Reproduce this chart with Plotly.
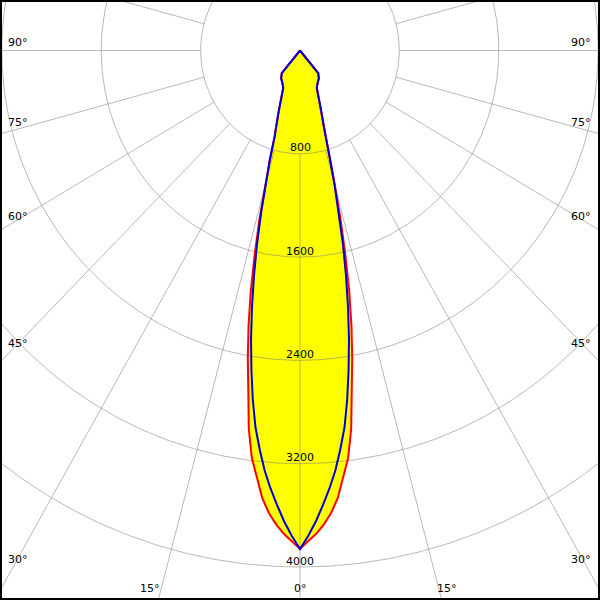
import numpy as np
import plotly.graph_objects as go

# ---- data (cd, angle in degrees from nadir) ----
ANGLES = [0, 1, 2, 3, 4, 5, 6, 7, 8, 9, 10, 11, 12, 13, 14, 15, 16, 17, 18,
          20, 22.5, 25, 30, 35, 40, 45, 50, 60, 70, 80, 90]
RED_C0 = [3860, 3800, 3745, 3675, 3590, 3480, 3320, 3180, 2960, 2660, 2420,
          2170, 1905, 1620, 1350, 1090, 880, 700, 620, 500, 400, 320, 285,
          265, 228, 0, 0, 0, 0, 0, 0]
BLUE_C90 = [3860, 3760, 3650, 3525, 3400, 3265, 3105, 2940, 2730, 2500, 2270,
            2025, 1780, 1535, 1290, 1070, 880, 700, 620, 500, 400, 320, 285,
            265, 228, 0, 0, 0, 0, 0, 0]
RADIAL_TICKS = [800, 1600, 2400, 3200, 4000]
SIDE_ANGLE_TICKS = ["90°", "75°", "60°", "45°", "30°"]
BOTTOM_ANGLE_TICKS = ["15°", "0°", "15°"]

# ---- layout constants (pixels of the 600x600 picture) ----
W = H = 600
CX, CY = 300.0, 50.5          # pole position in pixels
SX = 99.4 / 800               # px per cd horizontally
SY = 103.3 / 800              # px per cd vertically
SIDE_LABEL_Y = [42, 122, 216, 343, 559]
SIDE_LABEL_X = [18, 581]
BOTTOM_LABEL_X = [150, 300, 447]
BOTTOM_LABEL_Y = 588

GRID = "rgba(128,128,128,0.55)"


def polar_xy(angles, values):
    a = np.radians(np.asarray(angles, float))
    v = np.asarray(values, float)
    return v * np.sin(a), -v * np.cos(a)


def full_curve(values):
    ang = list(-np.asarray(ANGLES[::-1], float)) + list(ANGLES[1:])
    val = list(values[::-1]) + list(values[1:])
    return polar_xy(ang, val)


fig = go.Figure()

rx, ry = full_curve(RED_C0)
bx, by = full_curve(BLUE_C90)

# yellow fills
for xx, yy in ((rx, ry), (bx, by)):
    fig.add_trace(go.Scatter(x=xx, y=yy, mode="lines", fill="toself",
                             fillcolor="#ffff00", line=dict(width=0),
                             hoverinfo="skip", showlegend=False))

# circular grid
t = np.linspace(0, 360, 721)
for r in RADIAL_TICKS:
    gx, gy = polar_xy(t, [r] * len(t))
    fig.add_trace(go.Scatter(x=gx, y=gy, mode="lines",
                             line=dict(color=GRID, width=1),
                             hoverinfo="skip", showlegend=False))

# radial grid lines every 15 deg, starting at the first circle
for a in range(0, 360, 15):
    gx, gy = polar_xy([a, a], [RADIAL_TICKS[0], 8000])
    fig.add_trace(go.Scatter(x=gx, y=gy, mode="lines",
                             line=dict(color=GRID, width=1),
                             hoverinfo="skip", showlegend=False))

# curves
fig.add_trace(go.Scatter(x=rx, y=ry, mode="lines",
                         line=dict(color="#ff0000", width=2),
                         name="C0-C180", showlegend=False))
fig.add_trace(go.Scatter(x=bx, y=by, mode="lines",
                         line=dict(color="#0000d8", width=2),
                         name="C90-C270", showlegend=False))

font = dict(family="DejaVu Sans", size=11, color="black")
annotations = []
for r in RADIAL_TICKS:
    annotations.append(dict(x=0, y=-r, xref="x", yref="y", text=str(r),
                            showarrow=False, font=font, yanchor="middle",
                            xanchor="center", yshift=6))
for lab, yy in zip(SIDE_ANGLE_TICKS, SIDE_LABEL_Y):
    for xx in SIDE_LABEL_X:
        annotations.append(dict(x=xx / W, y=1 - yy / H, xref="paper",
                                yref="paper", text=lab, showarrow=False,
                                font=font, xanchor="center", yanchor="middle"))
for lab, xx in zip(BOTTOM_ANGLE_TICKS, BOTTOM_LABEL_X):
    annotations.append(dict(x=xx / W, y=1 - BOTTOM_LABEL_Y / H, xref="paper",
                            yref="paper", text=lab, showarrow=False,
                            font=font, xanchor="center", yanchor="middle"))

fig.update_layout(
    width=W, height=H,
    margin=dict(l=0, r=0, t=0, b=0),
    paper_bgcolor="white", plot_bgcolor="white",
    xaxis=dict(range=[-CX / SX, (W - CX) / SX], visible=False, fixedrange=True),
    yaxis=dict(range=[-(H - CY) / SY, CY / SY], visible=False, fixedrange=True),
    annotations=annotations,
    shapes=[dict(type="rect", xref="paper", yref="paper", x0=0, y0=0, x1=1,
                 y1=1, line=dict(color="black", width=4), layer="above")],
)

fig.write_html("out.html", config={"displayModeBar": False},
               post_script="document.body.style.margin='0px';"
                           "document.body.style.padding='0px';")
